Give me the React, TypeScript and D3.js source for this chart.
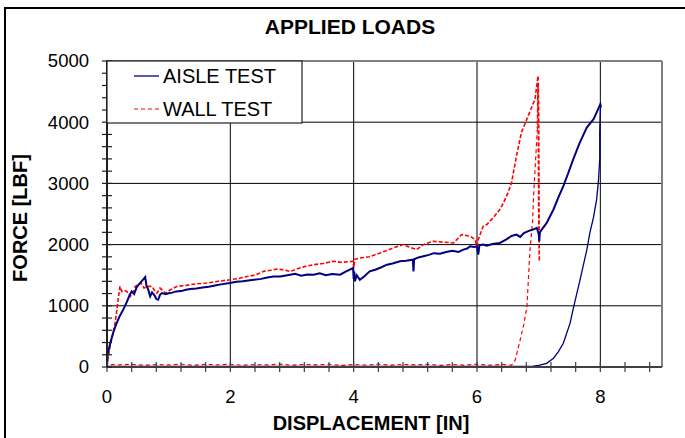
import React from "react";
import * as d3 from "d3";

// ---------- DATA ----------
const title = "APPLIED LOADS";
const xLabel = "DISPLACEMENT [IN]";
const yLabel = "FORCE [LBF]";
const seriesNames = ["AISLE TEST", "WALL TEST"];
const xTicks = [0, 2, 4, 6, 8];
const yTicks = [0, 1000, 2000, 3000, 4000, 5000];

// AISLE TEST: [displacement (in), force (lbf)]
const aisleLoading: [number, number][] = [
  [0, 0], [0.01, 200], [0.05, 380], [0.1, 560], [0.15, 700], [0.2, 820], [0.26, 930],
  [0.32, 1060], [0.37, 1180], [0.4, 1235], [0.44, 1190], [0.48, 1300], [0.51, 1344],
  [0.56, 1400], [0.62, 1470], [0.64, 1330], [0.67, 1260], [0.7, 1153], [0.73, 1220],
  [0.77, 1170], [0.8, 1110], [0.83, 1098], [0.86, 1180], [0.89, 1208], [0.95, 1190],
  [1.0, 1205], [1.06, 1215], [1.12, 1235], [1.2, 1240], [1.28, 1262], [1.35, 1273],
  [1.45, 1282], [1.55, 1300], [1.65, 1312], [1.75, 1330], [1.85, 1350], [1.99, 1372],
  [2.1, 1392], [2.2, 1400], [2.35, 1422], [2.5, 1440], [2.6, 1462], [2.7, 1478],
  [2.81, 1480], [2.97, 1508], [3.05, 1522], [3.15, 1490], [3.25, 1512], [3.35, 1508],
  [3.45, 1532], [3.55, 1500], [3.65, 1520], [3.78, 1508], [3.87, 1560], [3.99, 1618],
  [4.0, 1440], [4.01, 1560], [4.02, 1400], [4.05, 1500], [4.1, 1426], [4.17, 1480],
  [4.26, 1563], [4.35, 1590], [4.45, 1630], [4.54, 1672], [4.63, 1690], [4.75, 1727],
  [4.85, 1735], [4.96, 1754], [4.97, 1563], [4.98, 1760], [5.05, 1790], [5.13, 1809],
  [5.22, 1832], [5.3, 1860], [5.4, 1850], [5.5, 1880], [5.6, 1900], [5.7, 1880],
  [5.78, 1918], [5.84, 1935], [5.89, 1972], [5.95, 1962], [6.0, 1970], [6.02, 1836],
  [6.04, 1990], [6.1, 2000], [6.16, 1983], [6.25, 2010], [6.37, 2027], [6.47, 2080],
  [6.56, 2140], [6.64, 2164], [6.7, 2126], [6.76, 2190], [6.84, 2225], [6.91, 2246],
  [6.97, 2273], [7.0, 2180], [7.01, 2054], [7.02, 2200], [7.05, 2246], [7.13, 2355],
  [7.24, 2574], [7.32, 2770], [7.4, 2956], [7.48, 3170], [7.56, 3393], [7.66, 3650],
  [7.78, 3913], [7.89, 4049], [7.95, 4180], [8.0, 4295], [8.01, 4250],
];
const aisleUnloading: [number, number][] = [
  [8.01, 4250], [8.0, 4213], [7.99, 3831], [7.99, 3393], [7.97, 3050], [7.94, 2738],
  [7.89, 2450], [7.83, 2192], [7.78, 1910], [7.72, 1644], [7.67, 1420], [7.62, 1208],
  [7.56, 950], [7.51, 716], [7.45, 540], [7.4, 388], [7.32, 250], [7.24, 143],
  [7.13, 60], [7.0, 25], [6.91, 12], [6.5, 10], [6.0, 8], [5.0, 10], [4.0, 8],
  [3.0, 10], [2.0, 8], [1.0, 10], [0, 8],
];

// WALL TEST: [displacement (in), force (lbf)]
const wallLoading: [number, number][] = [
  [0, 0], [0.01, 115], [0.05, 336], [0.09, 520], [0.13, 716], [0.16, 930], [0.18, 1100],
  [0.21, 1317], [0.24, 1235], [0.28, 1250], [0.32, 1235], [0.38, 1153], [0.43, 1235],
  [0.46, 1317], [0.55, 1372], [0.6, 1290], [0.65, 1317], [0.73, 1317], [0.78, 1235],
  [0.81, 1208], [0.86, 1290], [0.95, 1208], [1.03, 1263], [1.14, 1317], [1.25, 1330],
  [1.35, 1344], [1.45, 1360], [1.62, 1372], [1.8, 1400], [2.0, 1426], [2.15, 1450],
  [2.27, 1480], [2.4, 1500], [2.54, 1563], [2.65, 1580], [2.75, 1600], [2.86, 1590],
  [2.97, 1560], [3.1, 1610], [3.2, 1640], [3.35, 1672], [3.5, 1690], [3.67, 1727],
  [3.8, 1710], [3.99, 1727], [4.0, 1618], [4.02, 1760], [4.1, 1781], [4.25, 1800],
  [4.43, 1863], [4.6, 1930], [4.8, 2000], [4.9, 1960], [5.02, 1918], [5.13, 2000],
  [5.29, 2054], [5.45, 2040], [5.62, 2027], [5.75, 2164], [5.89, 2137], [5.97, 2082],
  [6.0, 1972], [6.02, 2082], [6.1, 2300], [6.16, 2328], [6.26, 2437], [6.37, 2574],
  [6.43, 2683], [6.5, 2840], [6.56, 3011], [6.64, 3448], [6.72, 3831], [6.83, 4103],
  [6.94, 4377], [6.97, 4600], [6.99, 4759], [7.0, 4300], [7.01, 1727], [7.0, 2600],
  [6.99, 4650], [6.98, 3900],
];
const wallUnloading: [number, number][] = [
  [6.98, 3900], [6.96, 3557], [6.92, 2847], [6.9, 2355], [6.86, 1918], [6.83, 1372],
  [6.81, 989], [6.76, 700], [6.7, 443], [6.62, 115], [6.56, 30], [6.4, 42], [6.2, 30],
  [6.0, 45], [5.8, 32], [5.6, 40], [5.4, 28], [5.2, 44], [5.0, 35], [4.8, 42],
  [4.6, 30], [4.4, 45], [4.2, 33], [4.0, 40], [3.8, 28], [3.6, 44], [3.4, 36],
  [3.2, 42], [3.0, 30], [2.8, 45], [2.6, 34], [2.4, 40], [2.2, 30], [2.0, 44],
  [1.8, 36], [1.6, 42], [1.4, 30], [1.2, 45], [1.0, 35], [0.8, 40], [0.6, 30],
  [0.4, 44], [0.2, 36], [0, 40],
];

// ---------- CHART ----------
const FONT = "'Liberation Sans', Arial, Helvetica, sans-serif";
const BLUE = "#000080";
const RED = "#ff0000";

export default function App() {
  const W = 685;
  const H = 438;
  const x = d3.scaleLinear().domain([0, 9]).range([107, 662]);
  const y = d3.scaleLinear().domain([0, 5000]).range([367, 61]);
  const line = d3
    .line<[number, number]>()
    .x((d) => x(d[0]))
    .y((d) => y(d[1]));

  const xMinor = d3.range(0, 9.001, 0.4);
  const yMinor = d3.range(0, 5001, 200);

  const [x0, x1] = x.range();
  const [y0, y1] = y.range();

  return (
    <svg
      width={W}
      height={H}
      style={{ position: "fixed", left: 0, top: 0, background: "#fff" }}
      fontFamily={FONT}
    >
      <rect x={0} y={0} width={W} height={H} fill="#fff" />
      {/* outer frame */}
      <rect x={5} y={8} width={720} height={480} fill="none" stroke="#000" strokeWidth={2} />

      {/* title */}
      <text x={350} y={27} textAnchor="middle" dy="0.35em" fontSize={21} fontWeight="bold">
        {title}
      </text>

      {/* grid */}
      {yTicks.slice(1, -1).map((t) => (
        <line key={"gy" + t} x1={x0} x2={x1} y1={y(t)} y2={y(t)} stroke="#000" strokeWidth={1} />
      ))}
      {xTicks.slice(1).map((t) => (
        <line key={"gx" + t} x1={x(t)} x2={x(t)} y1={y0} y2={y1} stroke="#000" strokeWidth={1} />
      ))}
      {/* plot frame top/right */}
      <line x1={x0} x2={x1} y1={y1} y2={y1} stroke="#808080" strokeWidth={2} />
      <line x1={x1} x2={x1} y1={y1} y2={y0} stroke="#808080" strokeWidth={2} />

      {/* series */}
      <path d={line(wallUnloading) || ""} fill="none" stroke={RED} strokeWidth={1.2} strokeDasharray="4 3" />
      <path d={line(wallLoading) || ""} fill="none" stroke={RED} strokeWidth={1.6} strokeDasharray="4 2" />
      <path d={line(aisleUnloading) || ""} fill="none" stroke={BLUE} strokeWidth={1.3} />
      <path d={line(aisleLoading) || ""} fill="none" stroke={BLUE} strokeWidth={2} />

      {/* axes */}
      <line x1={x0} x2={x1} y1={y0} y2={y0} stroke="#404040" strokeWidth={2} />
      <line x1={x0} x2={x0} y1={y0} y2={y1} stroke="#202020" strokeWidth={2} />
      {xMinor.map((t, i) => (
        <line key={"xt" + i} x1={x(t)} x2={x(t)} y1={y0 - 5} y2={y0 + 5} stroke="#404040" strokeWidth={1.2} />
      ))}
      {yMinor.map((t, i) => (
        <line key={"yt" + i} x1={x0 - 5} x2={x0 + 5} y1={y(t)} y2={y(t)} stroke="#202020" strokeWidth={1.2} />
      ))}

      {/* tick labels */}
      {xTicks.map((t) => (
        <text key={"xl" + t} x={x(t)} y={397} textAnchor="middle" dy="0.35em" fontSize={18.5}>
          {t}
        </text>
      ))}
      {yTicks.map((t) => (
        <text key={"yl" + t} x={89} y={y(t)} textAnchor="end" dy="0.35em" fontSize={18.5}>
          {t}
        </text>
      ))}

      {/* axis titles */}
      <text x={371} y={423} textAnchor="middle" dy="0.35em" fontSize={20} fontWeight="bold">
        {xLabel}
      </text>
      <text
        transform={`translate(20,218) rotate(-90)`}
        textAnchor="middle"
        dy="0.35em"
        fontSize={20}
        fontWeight="bold"
      >
        {yLabel}
      </text>

      {/* legend */}
      <rect x={107} y={61} width={195} height={62} fill="#fff" stroke="#202020" strokeWidth={1.2} />
      <line x1={134} x2={159} y1={76} y2={76} stroke={BLUE} strokeWidth={1.3} />
      <text x={163} y={76} dy="0.35em" fontSize={20}>
        {seriesNames[0]}
      </text>
      <line x1={134} x2={159} y1={109} y2={109} stroke={RED} strokeWidth={1.2} strokeDasharray="4 3" />
      <text x={163} y={109} dy="0.35em" fontSize={20}>
        {seriesNames[1]}
      </text>
    </svg>
  );
}
